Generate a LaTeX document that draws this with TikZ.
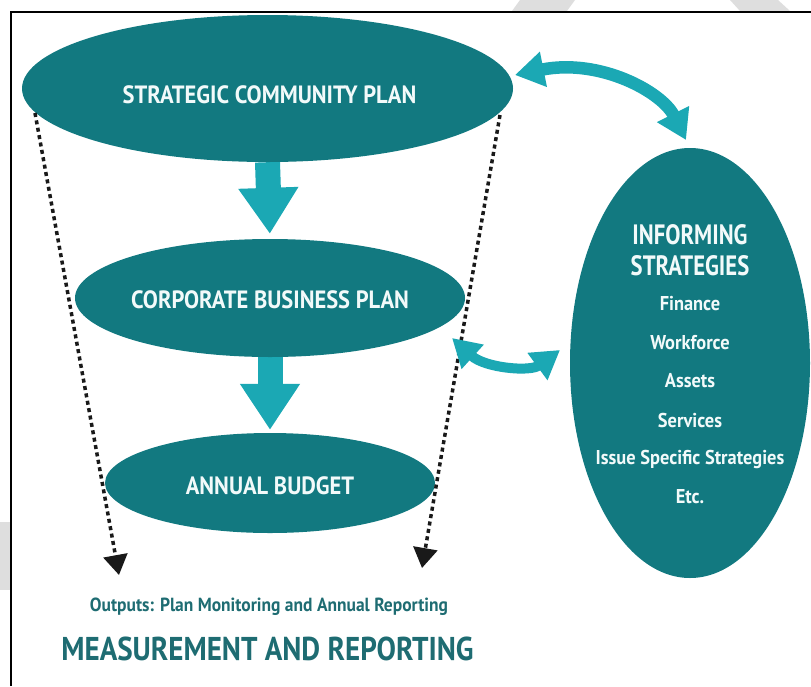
\documentclass[tikz,border=0pt]{standalone}
\usepackage{fontspec}
\newfontfamily\fa{PT Sans}[FakeStretch=0.90]
\newfontfamily\fb{PT Sans}[FakeStretch=0.92]
\newfontfamily\fc{PT Sans}[FakeStretch=0.81]
\newfontfamily\fd{PT Sans}[FakeStretch=0.88]
\usetikzlibrary{arrows.meta,shapes.geometric,backgrounds}
\definecolor{tealdark}{HTML}{127980}
\definecolor{teallight}{HTML}{1BA8B4}
\definecolor{tealtext}{HTML}{1E6C72}
\definecolor{wm}{HTML}{DEDEDE}
\definecolor{lighttext}{HTML}{F2FAFA}
\tikzset{
  planell/.style={ellipse, fill=tealdark, draw=none, inner sep=0pt},
  bigcap/.style={text=lighttext, font=\fa\bfseries\fontsize{25}{28}\selectfont, inner sep=0pt},
  infocap/.style={text=lighttext, font=\fc\bfseries\fontsize{28}{30}\selectfont, inner sep=0pt},
  infoitem/.style={text=lighttext, font=\fb\bfseries\fontsize{20}{22}\selectfont, inner sep=0pt},
  blockarrow/.style={draw=teallight, line width=25pt, -{Triangle[length=46pt,width=57pt]}},
  curvearrow/.style={draw=teallight, line width=12.5pt,
     {Triangle[length=29pt,width=34pt]}-{Triangle[length=29pt,width=34pt]}},
  curvearrowsmall/.style={draw=teallight, line width=10pt,
     {Triangle[length=28pt,width=31pt]}-{Triangle[length=28pt,width=32pt]}},
  dashline/.style={draw=black!90, line width=3.5pt, dash pattern=on 4pt off 3.5pt,
     -{Triangle[length=20pt,width=24pt]}},
  frameline/.style={draw=black, line width=2pt}
}
\begin{document}
\begin{tikzpicture}[x=1pt,y=-1pt]
\useasboundingbox (0,0) rectangle (811,686);
% watermark fragments
\fill[wm] (520,0) -- (575,0) -- (567,11) -- (512,11) -- cycle;
\fill[wm] (730,0) -- (778,0) -- (790,11) -- (740,11) -- cycle;
\fill[wm] (0,522) rectangle (10,590);
% frame
\draw[frameline] (11,686) -- (11,12) -- (811,12);

% ellipses
\node[planell, minimum width=491pt, minimum height=147pt] (scp) at (267.5,88.5) {};
\node[planell, minimum width=390pt, minimum height=118pt] (cbp) at (270,298) {};
\node[planell, minimum width=330pt, minimum height=100pt] (ab) at (270,483) {};
\node[planell, minimum width=240pt, minimum height=430pt] (inf) at (690,363) {};

% block arrows behind ellipses
\begin{scope}[on background layer]
\draw[blockarrow, shorten >=5pt] (scp.south) -- (cbp.north);
\draw[blockarrow, shorten >=3pt] (cbp.south) -- (ab.north);
\end{scope}

% texts
\node[bigcap] (t1) at (269.5,95) {STRATEGIC COMMUNITY PLAN};
\node[bigcap] (t2) at (270,299.5) {CORPORATE BUSINESS PLAN};
\node[bigcap] (t3) at (270,485.5) {ANNUAL BUDGET};
\node[infocap] (i1) at (690,235) {INFORMING};
\node[infocap] (i2) at (690,266) {STRATEGIES};
\node[infoitem] (i3) at (690,304) {Finance};
\node[infoitem] (i4) at (690,343) {Workforce};
\node[infoitem] (i5) at (690,381) {Assets};
\node[infoitem] (i6) at (690,420) {Services};
\node[infoitem] (i7) at (690,459) {Issue Specific Strategies};
\node[infoitem] (i8) at (690,497) {Etc.};

\node[text=tealtext, font=\fb\bfseries\fontsize{19}{22}\selectfont, inner sep=0pt] (out) at (269,607) {Outputs: Plan Monitoring and Annual Reporting};
\node[text=tealtext, font=\fd\bfseries\fontsize{33}{36}\selectfont, inner sep=0pt] (mr) at (267.5,649) {MEASUREMENT AND REPORTING};

% dashed arrows
\coordinate (dl0) at (35,113);
\coordinate (dl1) at (119,575);
\coordinate (dr0) at (500,115);
\coordinate (dr1) at (422,568);
\draw[dashline] (dl0) -- (dl1);
\draw[dashline] (dr0) -- (dr1);

% curved double arrows
\coordinate (ca0) at (515,75);
\coordinate (ca1) at (686,140);
\draw[curvearrow] (ca0) .. controls (600,58) and (662,92) .. (ca1);
\coordinate (cb0) at (452,338);
\coordinate (cb1) at (560,350);
\draw[curvearrowsmall] (cb0) .. controls (485,368) and (530,372) .. (cb1);
\end{tikzpicture}
\end{document}
